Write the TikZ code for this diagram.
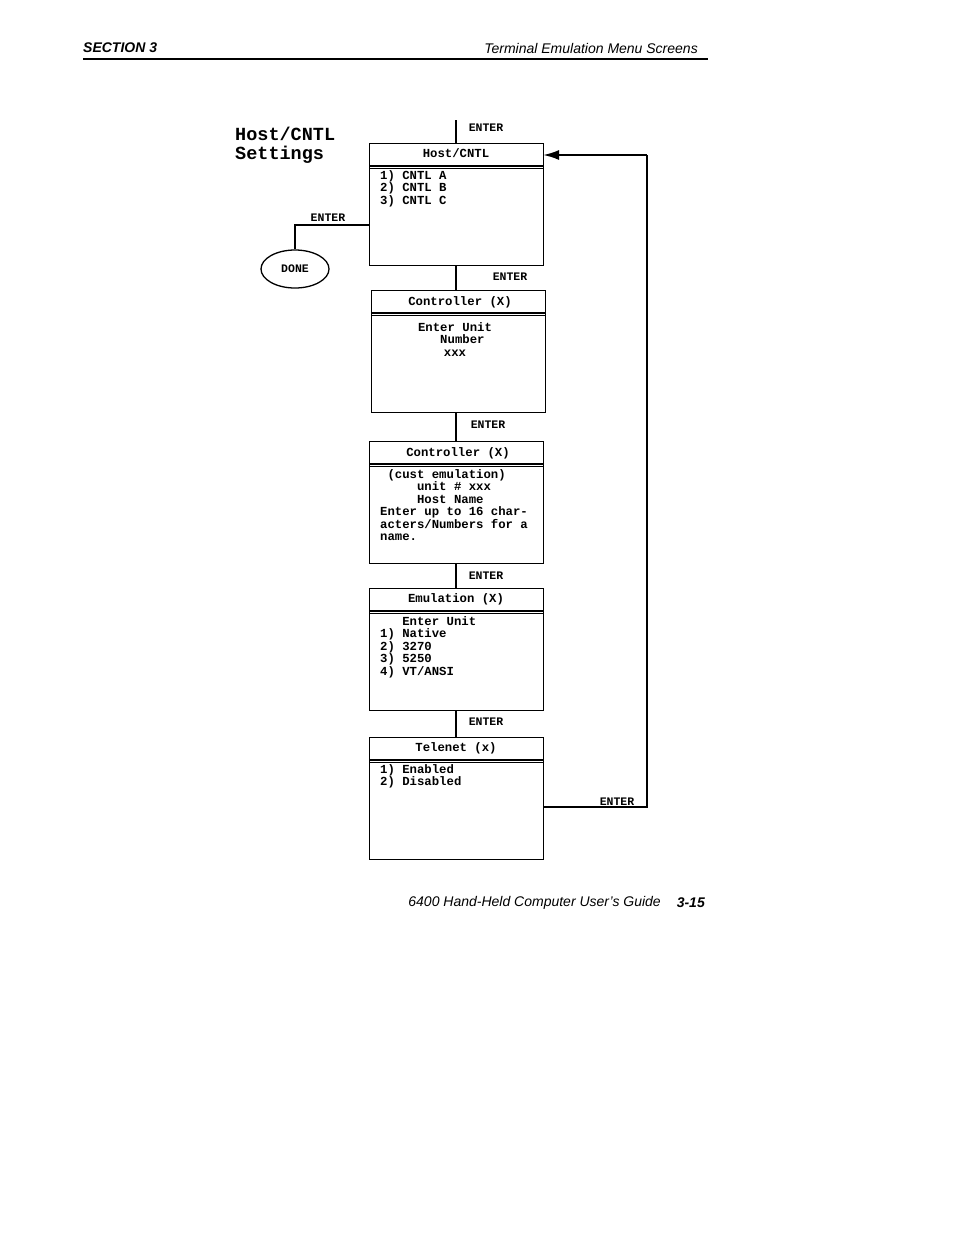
\documentclass[tikz,border=0pt]{standalone}
\usetikzlibrary{shapes.geometric,arrows.meta}
\usepackage{fontspec}
\setmainfont{Liberation Sans}
\newfontfamily\mono{Liberation Mono}
\begin{document}
\begin{tikzpicture}[x=1pt,y=-1pt,
 scr/.style={draw,line width=1.3pt,minimum width=174pt,minimum height=122pt,anchor=north west,inner sep=0},
 lbl/.style={font=\mono\bfseries\fontsize{11.5}{12}\selectfont,inner sep=0},
 txt/.style={font=\mono\bfseries\fontsize{12.3}{12.5}\selectfont,inner sep=0,align=left,anchor=north west},
 ttl/.style={font=\mono\bfseries\fontsize{12.3}{13}\selectfont,inner sep=0},
 ln/.style={line width=1.2pt}]
\useasboundingbox (0,0) rectangle (954,1235);
\node[font=\bfseries\itshape\fontsize{14}{16}\selectfont,anchor=west,inner sep=0] (sec) at (83,48) {SECTION 3};
\node[font=\itshape\fontsize{14}{16}\selectfont,anchor=east,inner sep=0] (hd) at (698,48) {Terminal Emulation Menu Screens};
\draw[line width=1.6pt] (83,59) -- (708,59);
\node[font=\itshape\fontsize{14}{16}\selectfont,anchor=east,inner sep=0] (ft) at (661,903) {6400 Hand-Held Computer User's Guide};
\node[font=\bfseries\itshape\fontsize{14}{16}\selectfont,anchor=east,inner sep=0] (pg) at (705,903) {3-15};
\node[font=\mono\bfseries\fontsize{18.5}{19}\selectfont,anchor=north west,align=left,inner sep=0] (title) at (235,127) {Host/CNTL\\Settings};
% boxes
\foreach \n/\x/\y in {b1/369/143,b2/371/290,b3/369/441,b4/369/588,b5/369/737}{
 \node[scr] (\n) at (\x,\y) {};
 \draw[line width=1.3pt] (\x,\y+23) -- +(174,0);
 \draw[line width=0.8pt] (\x,\y+25.5) -- +(174,0);
}
\node[ttl] (t1) at (456,153) {Host/CNTL};
\node[ttl] (t2) at (460,302) {Controller (X)};
\node[ttl] (t3) at (458,453) {Controller (X)};
\node[ttl] (t4) at (456,599) {Emulation (X)};
\node[ttl] (t5) at (456,748) {Telenet (x)};
\node[txt] (c1) at (380,170) {1) CNTL A\\2) CNTL B\\3) CNTL C};
\node[txt,align=center,anchor=north] (c2) at (455,322) {Enter Unit\\ \ \ Number\\xxx};
\node[txt] (c3) at (380,469) {\ (cust emulation)\\ \ \ \ \ \ unit \# xxx\\ \ \ \ \ \ Host Name\\Enter up to 16 char-\\acters/Numbers for a\\name.};
\node[txt] (c4) at (380,616) {\ \ \ Enter Unit\\1) Native\\2) 3270\\3) 5250\\4) VT/ANSI};
\node[txt] (c5) at (380,764) {1) Enabled\\2) Disabled};
% connectors
\coordinate (top) at (456,120);
\draw[ln] (top) -- (456,143);
\node[lbl] (e0) at (486,128) {ENTER};
\draw[ln] (456,265) -- (456,290); \node[lbl] (e1) at (510,277) {ENTER};
\draw[ln] (456,412) -- (456,441); \node[lbl] (e2) at (488,425) {ENTER};
\draw[ln] (456,563) -- (456,588); \node[lbl] (e3) at (486,576) {ENTER};
\draw[ln] (456,711) -- (456,737); \node[lbl] (e4) at (486,722) {ENTER};
\node[draw,ellipse,line width=1.3pt,minimum width=68pt,minimum height=38pt,inner sep=0] (done) at (295,269) {};
\node[lbl] at (done) {DONE};
\draw[ln] (369,225) -- (295,225) -- (done.north);
\node[lbl] (e5) at (328,218) {ENTER};
\draw[ln] (543,807) -- (647,807) -- (647,155);
\draw[line width=2pt,-{Latex[length=16pt,width=10pt]}] (647,155) -- (543,155);
\node[lbl] (e6) at (617,802) {ENTER};
\end{tikzpicture}
\end{document}
